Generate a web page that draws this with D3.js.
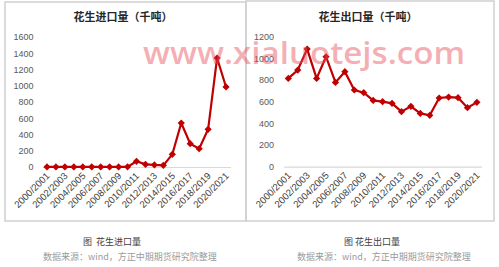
<!DOCTYPE html>
<html>
<head>
<meta charset="utf-8">
<script src="https://cdn.jsdelivr.net/npm/d3@7"></script>
<style>
  body { margin: 0; background: #fff; }
  svg { display: block; }
  .tick text { font-family: "Liberation Sans", Arial, sans-serif; font-size: 9px; fill: #595959; }
  .xlab .tick text { font-size: 9.6px; fill: #404040; }
</style>
</head>
<body>
<svg id="chart" width="499" height="267"></svg>
<script>
// seasons on the category axis
const seasons = ["2000/2001","2001/2002","2002/2003","2003/2004","2004/2005","2005/2006","2006/2007",
  "2007/2008","2008/2009","2009/2010","2010/2011","2011/2012","2012/2013","2013/2014","2014/2015",
  "2015/2016","2016/2017","2017/2018","2018/2019","2019/2020","2020/2021"];
// peanut imports, thousand tonnes
const imports = [1,1,1,1,1,1,1,1,1,2,70,33,25,20,156,541,287,226,464,1341,985];
// peanut exports, thousand tonnes
const exports = [815,892,1086,815,1015,778,877,708,683,612,600,585,508,557,492,474,634,643,637,545,594];
const importTicks = [0,200,400,600,800,1000,1200,1400,1600];
const exportTicks = [0,200,400,600,800,1000,1200];
const labelTicks = seasons.filter((s, i) => i % 2 == 0);

let svg = d3.select("#chart");

// panel frames
svg.append("rect").attr("x", 5).attr("y", 2).attr("width", 241).attr("height", 219)
  .attr("fill", "none").attr("stroke", "#d0d0d0").attr("stroke-width", 1.5);
svg.append("rect").attr("x", 246).attr("y", 1).attr("width", 248).attr("height", 220)
  .attr("fill", "none").attr("stroke", "#d0d0d0").attr("stroke-width", 1.5);

function drawPanel(opts) {
  let g = svg.append("g");
  let x = d3.scaleBand().domain(seasons).range(opts.xr).padding(0);
  let y = d3.scaleLinear().domain([0, d3.max(opts.ticks)]).range(opts.yr);

  // title
  g.append("text").attr("x", opts.titleX).attr("y", 21).attr("text-anchor", "middle")
    .style("font-family", '"Noto Sans CJK SC", sans-serif').style("font-size", "11px")
    .style("font-weight", "bold").attr("fill", "#262626").text(opts.title);

  // y axis labels only
  let ya = g.append("g").attr("transform", `translate(${opts.xr[0]},0)`)
    .call(d3.axisLeft(y).tickValues(opts.ticks).tickFormat(d3.format("d")).tickSize(0).tickPadding(opts.pad));
  ya.select(".domain").remove();

  // x axis
  let xa = g.append("g").attr("class", "xlab").attr("transform", `translate(0,${opts.yr[0]})`)
    .call(d3.axisBottom(x).tickValues(labelTicks).tickSize(0).tickSizeOuter(0));
  xa.select(".domain").attr("stroke", "#d9d9d9").attr("stroke-width", 1.2);
  xa.selectAll(".tick text")
    .attr("text-anchor", "end").attr("x", 0).attr("y", 0).attr("dy", "0.35em")
    .attr("transform", "translate(1,7) rotate(-45)");

  let cx = d => x(d) + x.bandwidth() / 2;
  let line = d3.line().x((d, i) => cx(seasons[i])).y(d => y(d));
  g.append("path").attr("d", line(opts.values))
    .attr("fill", "none").attr("stroke", "#c00000").attr("stroke-width", 2.2);

  g.selectAll(".mk").data(opts.values).join("path")
    .attr("class", "mk")
    .attr("d", d3.symbol(d3.symbolSquare, 26))
    .attr("transform", (d, i) => `translate(${cx(seasons[i])},${y(d)}) rotate(45)`)
    .attr("fill", "#c00000");

  // captions
  g.append("text").attr("x", opts.capX).attr("y", 245).attr("text-anchor", "middle")
    .style("font-family", '"Noto Sans CJK SC", sans-serif').style("font-size", "9px")
    .attr("fill", "#404040").attr("xml:space", "preserve").text(opts.caption);
  g.append("text").attr("x", opts.srcX).attr("y", 260).attr("text-anchor", "middle")
    .style("font-family", '"Noto Sans CJK SC", sans-serif').style("font-size", "9px")
    .attr("fill", "#9a9a9a").text("数据来源：wind，方正中期期货研究院整理");
}

drawPanel({ values: imports, ticks: importTicks, xr: [42.5, 230.5], yr: [167, 37], pad: 9,
  title: "花生进口量（千吨）", titleX: 123, caption: "图  花生进口量", capX: 112, srcX: 130 });
drawPanel({ values: exports, ticks: exportTicks, xr: [283.6, 481.6], yr: [166.7, 36.7], pad: 9.5,
  title: "花生出口量（千吨）", titleX: 368, caption: "图 花生出口量", capX: 372, srcX: 384 });

// watermark
svg.append("text").attr("x", 143).attr("y", 64)
  .attr("textLength", 322).attr("lengthAdjust", "spacingAndGlyphs")
  .style("font-family", '"Open Sans", sans-serif').style("font-size", "30px")
  .style("font-weight", "600").attr("fill", "#e8505c").attr("opacity", 0.45)
  .text("www.xialuotejs.com");
</script>
</body>
</html>
